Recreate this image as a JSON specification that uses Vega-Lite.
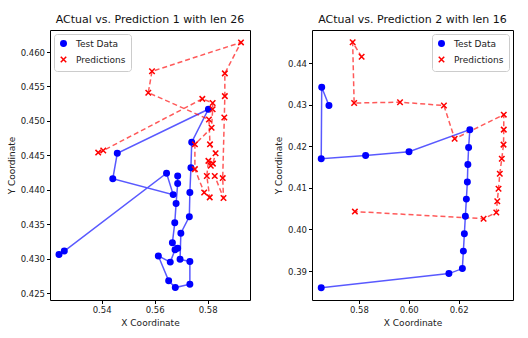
{
  "$schema": "https://vega.github.io/schema/vega-lite/v6.json",
  "background": "white",
  "padding": {"left": 6, "top": 13, "right": 4, "bottom": 4},
  "spacing": 23,
  "config": {
    "font": "DejaVu Sans",
    "view": {"stroke": "black", "strokeWidth": 1},
    "axis": {"grid": false, "domain": false, "tickColor": "black", "tickSize": 3.5, "labelFontSize": 8.5, "labelColor": "#222", "titleFontSize": 9, "titleFontWeight": "normal", "titleColor": "#222", "labelPadding": 2, "titlePadding": 4},
    "title": {"fontSize": 11, "fontWeight": "normal", "offset": 5, "color": "#111"},
    "legend": {"title": null, "fillColor": "white", "strokeColor": "#cccccc", "cornerRadius": 3, "padding": 5, "offset": 4, "labelFontSize": 9, "symbolSize": 30, "symbolStrokeWidth": 1.5, "rowPadding": 3, "labelOffset": 8, "labelColor": "#222"}
  },
  "datasets": {
    "left": [
      {"s": "Test Data", "i": 1, "x": 0.5239, "y": 0.4306},
      {"s": "Test Data", "i": 2, "x": 0.5259, "y": 0.4311},
      {"s": "Test Data", "i": 3, "x": 0.5645, "y": 0.4424},
      {"s": "Test Data", "i": 4, "x": 0.5670, "y": 0.4393},
      {"s": "Test Data", "i": 5, "x": 0.5442, "y": 0.4416},
      {"s": "Test Data", "i": 6, "x": 0.5459, "y": 0.4453},
      {"s": "Test Data", "i": 7, "x": 0.5803, "y": 0.4517},
      {"s": "Test Data", "i": 8, "x": 0.5740, "y": 0.4469},
      {"s": "Test Data", "i": 9, "x": 0.5737, "y": 0.4432},
      {"s": "Test Data", "i": 10, "x": 0.5733, "y": 0.4396},
      {"s": "Test Data", "i": 11, "x": 0.5731, "y": 0.4361},
      {"s": "Test Data", "i": 12, "x": 0.5699, "y": 0.4337},
      {"s": "Test Data", "i": 13, "x": 0.5696, "y": 0.4299},
      {"s": "Test Data", "i": 14, "x": 0.5733, "y": 0.4296},
      {"s": "Test Data", "i": 15, "x": 0.5733, "y": 0.4263},
      {"s": "Test Data", "i": 16, "x": 0.5678, "y": 0.4258},
      {"s": "Test Data", "i": 17, "x": 0.5653, "y": 0.4268},
      {"s": "Test Data", "i": 18, "x": 0.5614, "y": 0.4304},
      {"s": "Test Data", "i": 19, "x": 0.5659, "y": 0.4295},
      {"s": "Test Data", "i": 20, "x": 0.5677, "y": 0.4313},
      {"s": "Test Data", "i": 21, "x": 0.5687, "y": 0.4315},
      {"s": "Test Data", "i": 22, "x": 0.5667, "y": 0.4323},
      {"s": "Test Data", "i": 23, "x": 0.5676, "y": 0.4352},
      {"s": "Test Data", "i": 24, "x": 0.5681, "y": 0.4380},
      {"s": "Test Data", "i": 25, "x": 0.5687, "y": 0.4409},
      {"s": "Test Data", "i": 26, "x": 0.5687, "y": 0.4420},
      {"s": "Predictions", "i": 1, "x": 0.5387, "y": 0.4454},
      {"s": "Predictions", "i": 2, "x": 0.5406, "y": 0.4457},
      {"s": "Predictions", "i": 3, "x": 0.5780, "y": 0.4532},
      {"s": "Predictions", "i": 4, "x": 0.5819, "y": 0.4526},
      {"s": "Predictions", "i": 5, "x": 0.5819, "y": 0.4517},
      {"s": "Predictions", "i": 6, "x": 0.5815, "y": 0.4490},
      {"s": "Predictions", "i": 7, "x": 0.5752, "y": 0.4466},
      {"s": "Predictions", "i": 8, "x": 0.5752, "y": 0.4430},
      {"s": "Predictions", "i": 9, "x": 0.5787, "y": 0.4396},
      {"s": "Predictions", "i": 10, "x": 0.5808, "y": 0.4389},
      {"s": "Predictions", "i": 11, "x": 0.5797, "y": 0.4420},
      {"s": "Predictions", "i": 12, "x": 0.5803, "y": 0.4442},
      {"s": "Predictions", "i": 13, "x": 0.5812, "y": 0.4435},
      {"s": "Predictions", "i": 14, "x": 0.5820, "y": 0.4438},
      {"s": "Predictions", "i": 15, "x": 0.5830, "y": 0.4453},
      {"s": "Predictions", "i": 16, "x": 0.5809, "y": 0.4466},
      {"s": "Predictions", "i": 17, "x": 0.5805, "y": 0.4502},
      {"s": "Predictions", "i": 18, "x": 0.5576, "y": 0.4541},
      {"s": "Predictions", "i": 19, "x": 0.5590, "y": 0.4572},
      {"s": "Predictions", "i": 20, "x": 0.5926, "y": 0.4614},
      {"s": "Predictions", "i": 21, "x": 0.5865, "y": 0.4569},
      {"s": "Predictions", "i": 22, "x": 0.5865, "y": 0.4536},
      {"s": "Predictions", "i": 23, "x": 0.5863, "y": 0.4505},
      {"s": "Predictions", "i": 24, "x": 0.5857, "y": 0.4417},
      {"s": "Predictions", "i": 25, "x": 0.5860, "y": 0.4388},
      {"s": "Predictions", "i": 26, "x": 0.5827, "y": 0.4420}
    ],
    "right": [
      {"s": "Test Data", "i": 1, "x": 0.5680, "y": 0.4298},
      {"s": "Test Data", "i": 2, "x": 0.5651, "y": 0.4342},
      {"s": "Test Data", "i": 3, "x": 0.5649, "y": 0.4170},
      {"s": "Test Data", "i": 4, "x": 0.5827, "y": 0.4178},
      {"s": "Test Data", "i": 5, "x": 0.6001, "y": 0.4187},
      {"s": "Test Data", "i": 6, "x": 0.6245, "y": 0.4240},
      {"s": "Test Data", "i": 7, "x": 0.6240, "y": 0.4197},
      {"s": "Test Data", "i": 8, "x": 0.6237, "y": 0.4156},
      {"s": "Test Data", "i": 9, "x": 0.6235, "y": 0.4114},
      {"s": "Test Data", "i": 10, "x": 0.6231, "y": 0.4073},
      {"s": "Test Data", "i": 11, "x": 0.6227, "y": 0.4032},
      {"s": "Test Data", "i": 12, "x": 0.6223, "y": 0.3990},
      {"s": "Test Data", "i": 13, "x": 0.6219, "y": 0.3948},
      {"s": "Test Data", "i": 14, "x": 0.6215, "y": 0.3906},
      {"s": "Test Data", "i": 15, "x": 0.6161, "y": 0.3894},
      {"s": "Test Data", "i": 16, "x": 0.5649, "y": 0.3860},
      {"s": "Predictions", "i": 1, "x": 0.5811, "y": 0.4415},
      {"s": "Predictions", "i": 2, "x": 0.5775, "y": 0.4450},
      {"s": "Predictions", "i": 3, "x": 0.5781, "y": 0.4304},
      {"s": "Predictions", "i": 4, "x": 0.5965, "y": 0.4306},
      {"s": "Predictions", "i": 5, "x": 0.6141, "y": 0.4298},
      {"s": "Predictions", "i": 6, "x": 0.6184, "y": 0.4218},
      {"s": "Predictions", "i": 7, "x": 0.6381, "y": 0.4276},
      {"s": "Predictions", "i": 8, "x": 0.6381, "y": 0.4240},
      {"s": "Predictions", "i": 9, "x": 0.6380, "y": 0.4204},
      {"s": "Predictions", "i": 10, "x": 0.6373, "y": 0.4170},
      {"s": "Predictions", "i": 11, "x": 0.6365, "y": 0.4134},
      {"s": "Predictions", "i": 12, "x": 0.6360, "y": 0.4098},
      {"s": "Predictions", "i": 13, "x": 0.6355, "y": 0.4068},
      {"s": "Predictions", "i": 14, "x": 0.6351, "y": 0.4041},
      {"s": "Predictions", "i": 15, "x": 0.6300, "y": 0.4026},
      {"s": "Predictions", "i": 16, "x": 0.5784, "y": 0.4043}
    ]
  },
  "resolve": {
    "scale": {"fill": "independent", "stroke": "independent", "shape": "independent", "x": "independent", "y": "independent"},
    "legend": {"fill": "independent", "stroke": "independent", "shape": "independent"}
  },
  "hconcat": [
    {
      "title": "ACtual vs. Prediction 1 with len 26",
      "width": 200,
      "height": 270,
      "data": {"name": "left"},
      "encoding": {
        "x": {"field": "x", "type": "quantitative", "scale": {"domain": [0.5205, 0.5960], "nice": false, "zero": false}, "axis": {"values": [0.54, 0.56, 0.58], "format": ".2f", "title": "X Coordinate"}},
        "y": {"field": "y", "type": "quantitative", "scale": {"domain": [0.4240, 0.4632], "nice": false, "zero": false}, "axis": {"values": [0.425, 0.43, 0.435, 0.44, 0.445, 0.45, 0.455, 0.46], "format": ".3f", "title": "Y Coordinate"}}
      },
      "layer": [
        {"transform": [{"filter": "datum.s === 'Test Data'"}], "mark": {"type": "line", "color": "blue", "opacity": 0.65, "strokeWidth": 1.5}, "encoding": {"order": {"field": "i", "type": "quantitative"}}},
        {"transform": [{"filter": "datum.s === 'Predictions'"}], "mark": {"type": "line", "color": "red", "opacity": 0.65, "strokeWidth": 1.5, "strokeDash": [5, 3]}, "encoding": {"order": {"field": "i", "type": "quantitative"}}},
        {
          "mark": {"type": "point", "filled": true, "opacity": 1, "size": 30, "strokeWidth": 1.5},
          "encoding": {
            "fill": {"field": "s", "type": "nominal", "scale": {"domain": ["Test Data", "Predictions"], "range": ["blue", "red"]}, "legend": {"orient": "top-left"}},
            "stroke": {"field": "s", "type": "nominal", "scale": {"domain": ["Test Data", "Predictions"], "range": ["blue", "red"]}, "legend": {"orient": "top-left"}},
            "shape": {"field": "s", "type": "nominal", "scale": {"domain": ["Test Data", "Predictions"], "range": ["circle", "M-1,-1L1,1M-1,1L1,-1"]}, "legend": {"orient": "top-left"}}
          }
        }
      ]
    },
    {
      "title": "ACtual vs. Prediction 2 with len 16",
      "width": 201,
      "height": 270,
      "data": {"name": "right"},
      "encoding": {
        "x": {"field": "x", "type": "quantitative", "scale": {"domain": [0.5612, 0.6418], "nice": false, "zero": false}, "axis": {"values": [0.58, 0.60, 0.62], "format": ".2f", "title": "X Coordinate"}},
        "y": {"field": "y", "type": "quantitative", "scale": {"domain": [0.38305, 0.44795], "nice": false, "zero": false}, "axis": {"values": [0.39, 0.40, 0.41, 0.42, 0.43, 0.44], "format": ".2f", "title": "Y Coordinate"}}
      },
      "layer": [
        {"transform": [{"filter": "datum.s === 'Test Data'"}], "mark": {"type": "line", "color": "blue", "opacity": 0.65, "strokeWidth": 1.5}, "encoding": {"order": {"field": "i", "type": "quantitative"}}},
        {"transform": [{"filter": "datum.s === 'Predictions'"}], "mark": {"type": "line", "color": "red", "opacity": 0.65, "strokeWidth": 1.5, "strokeDash": [5, 3]}, "encoding": {"order": {"field": "i", "type": "quantitative"}}},
        {
          "mark": {"type": "point", "filled": true, "opacity": 1, "size": 30, "strokeWidth": 1.5},
          "encoding": {
            "fill": {"field": "s", "type": "nominal", "scale": {"domain": ["Test Data", "Predictions"], "range": ["blue", "red"]}, "legend": {"orient": "top-right"}},
            "stroke": {"field": "s", "type": "nominal", "scale": {"domain": ["Test Data", "Predictions"], "range": ["blue", "red"]}, "legend": {"orient": "top-right"}},
            "shape": {"field": "s", "type": "nominal", "scale": {"domain": ["Test Data", "Predictions"], "range": ["circle", "M-1,-1L1,1M-1,1L1,-1"]}, "legend": {"orient": "top-right"}}
          }
        }
      ]
    }
  ]
}
